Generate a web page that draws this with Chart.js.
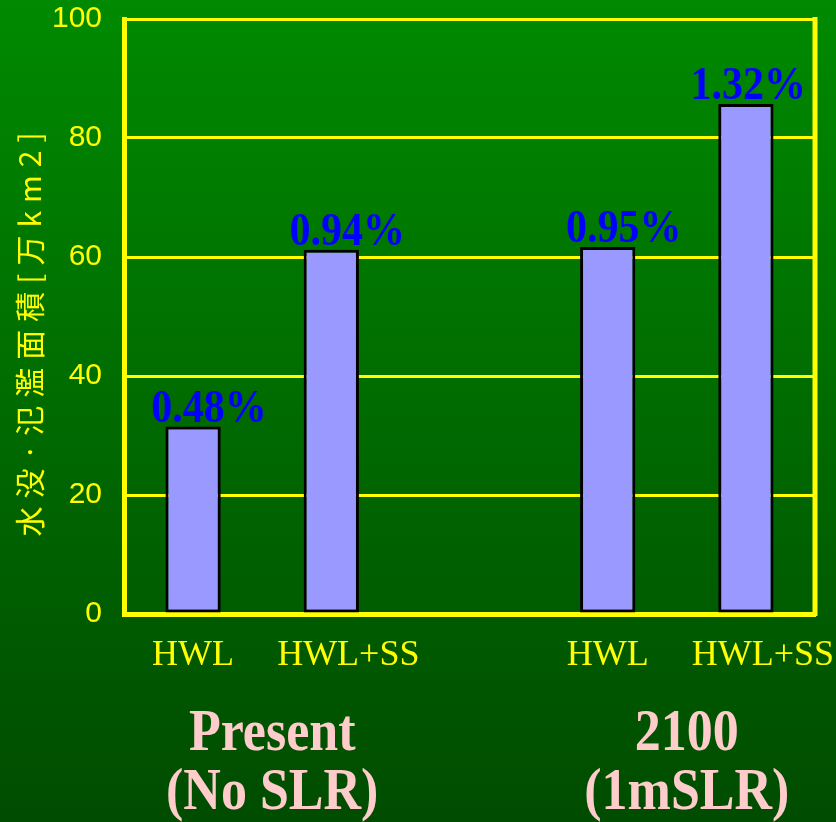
<!DOCTYPE html>
<html>
<head>
<meta charset="utf-8">
<script src="https://cdn.jsdelivr.net/npm/chart.js@4/dist/chart.umd.min.js"></script>
<style>
  html, body { margin: 0; padding: 0; background: #006a00; }
  #wrap { width: 836px; height: 822px; }
</style>
</head>
<body>
<div id="wrap"><canvas id="c" width="836" height="822"></canvas></div>
<script>
// ---- data ----
const categories = ['HWL', 'HWL+SS', '', 'HWL', 'HWL+SS'];
const areaValues = [31.5, 61.2, null, 61.7, 85.7];      // 万km2
const percentLabels = ['0.48%', '0.94%', '', '0.95%', '1.32%'];
const groupLabels = [['Present', '(No SLR)'], ['2100', '(1mSLR)']];
const groupMembers = [[0, 1], [3, 4]];
const yTitle = '水没·氾濫面積[万km2]';

const YELLOW = '#ffff00';
const SERIF = '"Liberation Serif", "Times New Roman", serif';

const bgPlugin = {
  id: 'bg',
  beforeDraw(chart) {
    const { ctx, width, height } = chart;
    const g = ctx.createLinearGradient(0, 0, 0, height);
    g.addColorStop(0, '#008a00');
    g.addColorStop(1, '#004c00');
    ctx.save();
    ctx.fillStyle = g;
    ctx.fillRect(0, 0, width, height);
    ctx.restore();
  }
};

const textPlugin = {
  id: 'texts',
  afterDraw(chart) {
    const { ctx, chartArea } = chart;
    const xs = chart.scales.x;
    const meta = chart.getDatasetMeta(0);
    ctx.save();
    // right frame line
    ctx.strokeStyle = YELLOW;
    ctx.lineWidth = 5;
    ctx.beginPath();
    ctx.moveTo(chartArea.right, chartArea.top - 2);
    ctx.lineTo(chartArea.right, chartArea.bottom + 2);
    ctx.stroke();

    // category labels (x axis)
    ctx.font = '36px ' + SERIF;
    ctx.fillStyle = YELLOW;
    ctx.textAlign = 'center';
    ctx.textBaseline = 'alphabetic';
    categories.forEach((c, i) => {
      if (!c) return;
      const off = c.length > 3 ? 17 : 0;
      ctx.fillText(c, xs.getPixelForValue(i) + off, chartArea.bottom + 51);
    });

    // percent labels
    ctx.font = 'bold 42px ' + SERIF;
    ctx.fillStyle = '#0000ff';
    meta.data.forEach((bar, i) => {
      const t = percentLabels[i];
      if (!t) return;
      const w = ctx.measureText(t).width;
      let cx = bar.x + 16;
      const maxRight = chart.width - 30;
      if (cx + w / 2 > maxRight) cx = maxRight - w / 2;
      ctx.save();
      ctx.translate(cx, bar.y - 5);
      ctx.scale(1, 1.08);
      ctx.fillText(t, 0, 0);
      ctx.restore();
    });

    // group labels
    ctx.font = 'bold 52px ' + SERIF;
    ctx.fillStyle = '#ffcccc';
    groupLabels.forEach((lines, gi) => {
      const m = groupMembers[gi];
      const cx = (xs.getPixelForValue(m[0]) + xs.getPixelForValue(m[1])) / 2 + 10;
      lines.forEach((ln, li) => {
        ctx.save();
        ctx.translate(cx, chartArea.bottom + 136 + li * 59);
        ctx.scale(1, 1.12);
        ctx.fillText(ln, 0, 0);
        ctx.restore();
      });
    });

    // y axis title
    ctx.translate(30, (chartArea.top + chartArea.bottom) / 2 + 14);
    ctx.rotate(-Math.PI / 2);
    ctx.font = '30px "Noto Sans CJK JP", "Noto Sans CJK SC", sans-serif';
    ctx.fillStyle = YELLOW;
    ctx.textAlign = 'center';
    ctx.textBaseline = 'middle';
    try { ctx.letterSpacing = '8px'; } catch (e) {}
    ctx.fillText(yTitle, 0, 0);
    ctx.restore();
  }
};

new Chart(document.getElementById('c'), {
  type: 'bar',
  data: {
    labels: categories,
    datasets: [{
      data: areaValues,
      backgroundColor: '#9999ff',
      borderColor: '#000000',
      borderWidth: 3,
      borderSkipped: false,
      categoryPercentage: 1.0,
      barPercentage: 0.4
    }]
  },
  options: {
    responsive: false,
    animation: false,
    layout: { padding: { top: 19, right: 21, left: 0, bottom: 0 } },
    plugins: {
      legend: { display: false },
      tooltip: { enabled: false },
      title: { display: false }
    },
    scales: {
      x: {
        grid: { display: false },
        border: { display: true, color: YELLOW, width: 5 },
        ticks: { display: false },
        afterFit(s) { s.height = 208; s.paddingLeft = 0; s.paddingRight = 0; }
      },
      y: {
        min: 0,
        max: 100,
        ticks: {
          stepSize: 20,
          color: YELLOW,
          padding: 22,
          font: { family: '"Liberation Sans Narrow", "Liberation Sans", Arial, sans-serif', size: 30 }
        },
        grid: { color: YELLOW, lineWidth: 3, drawTicks: false },
        border: { display: true, color: YELLOW, width: 5 },
        afterFit(s) { s.width = 124; s.paddingTop = 0; s.paddingBottom = 0; }
      }
    }
  },
  plugins: [bgPlugin, textPlugin]
});
</script>
</body>
</html>
